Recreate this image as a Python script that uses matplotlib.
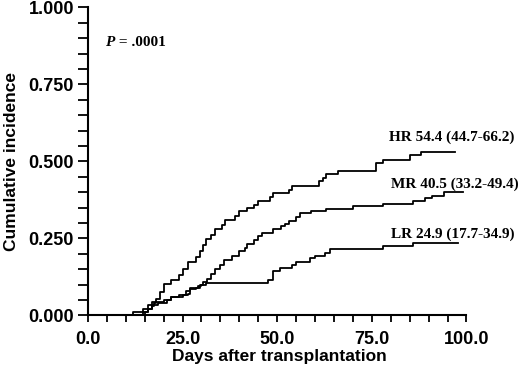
import matplotlib
matplotlib.use("Agg")
import matplotlib.pyplot as plt
from matplotlib.ticker import MultipleLocator, FormatStrFormatter

# step data (days, cumulative incidence)
hr_days = [0, 12, 14.6, 16, 17, 18, 19, 20, 22, 24, 25, 26.5, 28.5, 29.5, 30.5, 31.3,
           32.5, 33.5, 35.5, 36.2, 38.8, 40, 42, 44, 45, 48, 49, 53, 54, 61, 62, 63,
           66, 76, 78, 85, 88, 97]
hr_vals = [0, 0.01, 0.02, 0.035, 0.045, 0.055, 0.075, 0.103, 0.116, 0.132, 0.15, 0.175,
           0.19, 0.21, 0.23, 0.248, 0.262, 0.28, 0.294, 0.31, 0.324, 0.338, 0.349, 0.36,
           0.373, 0.386, 0.397, 0.408, 0.421, 0.435, 0.446, 0.459, 0.468, 0.495, 0.506,
           0.52, 0.531, 0.531]

mr_days = [0, 14.5, 16, 17, 18.5, 21, 22, 25, 26.5, 27, 28.5, 29.5, 30.5, 31.5, 32.5,
           33.5, 35, 36, 38, 40, 41.5, 42, 44, 45, 46, 49, 51, 52, 53, 55, 56, 59, 63,
           70, 78, 86, 89, 91, 94, 99]
mr_vals = [0, 0.01, 0.02, 0.035, 0.04, 0.05, 0.06, 0.065, 0.07, 0.085, 0.09, 0.1, 0.11,
           0.12, 0.135, 0.15, 0.165, 0.18, 0.194, 0.208, 0.219, 0.233, 0.246, 0.259,
           0.268, 0.28, 0.289, 0.298, 0.308, 0.321, 0.332, 0.338, 0.345, 0.354, 0.363,
           0.37, 0.381, 0.389, 0.4, 0.4]

lr_days = [0, 15, 16, 17, 17.5, 18, 20, 22, 24, 26, 27, 29, 30, 31.3, 47.6, 48.9, 50.7,
           53.8, 55, 58.6, 60, 62.6, 63.9, 78, 86, 97.8]
lr_vals = [0, 0.01, 0.02, 0.03, 0.04, 0.045, 0.05, 0.06, 0.065, 0.08, 0.09, 0.095, 0.1,
           0.107, 0.116, 0.145, 0.155, 0.165, 0.175, 0.186, 0.194, 0.202, 0.215, 0.224,
           0.235, 0.235]

labels = ["HR 54.4 (44.7-66.2)", "MR 40.5 (33.2-49.4)", "LR 24.9 (17.7-34.9)"]

fig = plt.figure(figsize=(5.2, 3.66), dpi=100)
ax = fig.add_axes([0.169, 0.138, 0.728, 0.842])

for d, v in [(hr_days, hr_vals), (mr_days, mr_vals), (lr_days, lr_vals)]:
    ax.step(d, v, where="post", color="black", lw=1.3)

ax.set_xlim(0, 100)
ax.set_ylim(0, 1)
ax.spines["top"].set_visible(False)
ax.spines["right"].set_visible(False)
ax.spines["left"].set_linewidth(1.5)
ax.spines["bottom"].set_linewidth(1.5)

ax.xaxis.set_major_locator(MultipleLocator(25))
ax.xaxis.set_minor_locator(MultipleLocator(5))
ax.yaxis.set_major_locator(MultipleLocator(0.25))
ax.yaxis.set_minor_locator(MultipleLocator(0.05))
ax.xaxis.set_major_formatter(FormatStrFormatter("%.1f"))
ax.yaxis.set_major_formatter(FormatStrFormatter("%.3f"))
ax.tick_params(axis="x", which="both", length=5, width=1.3, pad=6)
ax.tick_params(axis="y", which="both", length=7, width=1.3, pad=3)

for lab in ax.get_xticklabels() + ax.get_yticklabels():
    lab.set_fontfamily("Liberation Sans")
    lab.set_fontweight("bold")
    lab.set_fontsize(13)

ax.set_xlabel("Days after transplantation", fontfamily="Liberation Sans",
              fontweight="bold", fontsize=12.5)
ax.set_ylabel("Cumulative incidence", fontfamily="Liberation Sans",
              fontweight="bold", fontsize=12.5)
ax.xaxis.set_label_coords(0.507, -0.108)
ax.yaxis.set_label_coords(-0.183, 0.5)

p = ax.text(4.6, 0.885, "P", fontfamily="Liberation Serif", fontweight="bold",
            fontstyle="italic", fontsize=11, va="center")
ax.annotate(" = .0001", xy=(1, 0.5), xycoords=p, fontfamily="Liberation Serif",
            fontweight="bold", fontsize=11, va="center")
ax.text(79.5, 0.578, labels[0], fontfamily="Liberation Serif", fontweight="bold",
        fontsize=11, va="center")
ax.text(80.2, 0.425, labels[1], fontfamily="Liberation Serif", fontweight="bold",
        fontsize=11, va="center")
ax.text(80.2, 0.265, labels[2], fontfamily="Liberation Serif", fontweight="bold",
        fontsize=11, va="center")

fig.savefig("out.png", dpi=100)
